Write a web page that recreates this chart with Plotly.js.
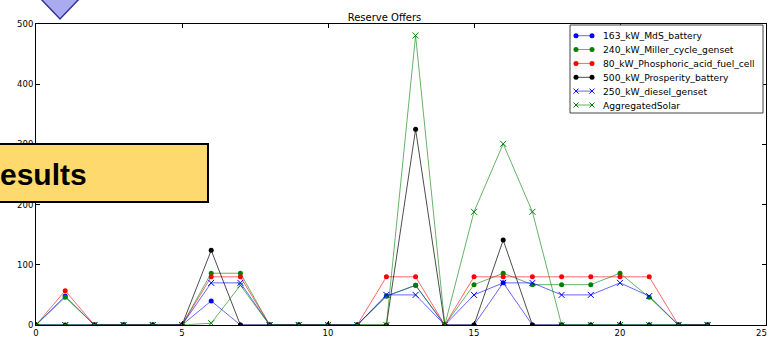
<!DOCTYPE html>
<html>
<head>
<meta charset="utf-8">
<script src="https://cdn.plot.ly/plotly-3.0.1.min.js"></script>
<style>html,body{margin:0;padding:0;background:#fff;}#chart{width:769px;height:340px;}</style>
</head>
<body>
<div id="chart"></div>
<script>
const hours = [0,1,2,3,4,5,6,7,8,9,10,11,12,13,14,15,16,17,18,19,20,21,22,23];
const seriesNames = ["163_kW_MdS_battery","240_kW_Miller_cycle_genset","80_kW_Phosphoric_acid_fuel_cell","500_kW_Prosperity_battery","250_kW_diesel_genset","AggregatedSolar"];
const mdsBattery   = [0,48,0,0,0,0,40,0,0,0,0,0,48,66,0,0,70,0,0,0,0,0,0,0];
const millerGenset = [0,46,0,0,0,0,86,86,0,0,0,0,48,66,0,67,86,67,67,67,86,46,0,0];
const phosFuelCell = [0,57,0,0,0,0,80,80,0,0,0,0,80,80,0,80,80,80,80,80,80,80,0,0];
const prosperityBattery = [0,0,0,0,0,0,124,0,0,0,0,0,0,325,0,0,141,0,0,0,0,0,0,0];
const dieselGenset = [0,0,0,0,0,0,70,70,0,0,0,0,50,50,0,50,70,70,50,50,70,48,0,0];
const aggregatedSolar = [0,0,0,0,0,0,3,66,0,0,0,0,0,481,0,188,301,188,0,0,0,0,0,0];
const xTicks = [0,5,10,15,20,25];
const yTicks = [0,100,200,300,400,500];

const allValues = [mdsBattery, millerGenset, phosFuelCell, prosperityBattery, dieselGenset, aggregatedSolar];
const lineColors = ["rgba(0,0,255,0.6)","rgba(0,128,0,0.6)","rgba(255,0,0,0.6)","rgba(0,0,0,0.7)","rgba(0,0,255,0.6)","rgba(0,128,0,0.6)"];
const markColors = ["#0000ff","#008000","#ff0000","#000000","#0000ff","#008000"];
const symbols = ["circle","circle","circle","circle","x-thin-open","x-thin-open"];

const traces = allValues.map((v,i)=>({
  x: hours, y: v, name: seriesNames[i], type: "scatter", mode: "lines+markers",
  line: {color: lineColors[i], width: 1},
  marker: symbols[i]==="circle"
    ? {symbol: "circle", size: 5, color: markColors[i], line: {width: 0}}
    : {symbol: symbols[i], size: 6, color: markColors[i], line: {width: 1, color: markColors[i]}}
}));

const L = 36, R = 766, T = 24, B = 325;
const px = v => (v - L) / (R - L);
const py = v => (B - v) / (B - T);

// matplotlib-style legend (compact rows), drawn as shapes + text
const legendShapes = [
  {type: "rect", xref: "paper", yref: "paper", layer: "above",
   x0: px(570), x1: px(763), y0: py(25), y1: py(113), fillcolor: "#ffffff", line: {color: "#444", width: 1}}
];
const legendAnn = [];
const rowY = [35.7, 49.5, 63.4, 77.3, 91.1, 105];
seriesNames.forEach((name, i) => {
  const y = rowY[i], xa = 576, xb = 592;
  legendShapes.push({type: "line", xref: "paper", yref: "paper", layer: "above",
    x0: px(xa), x1: px(xb), y0: py(y), y1: py(y), line: {color: lineColors[i], width: 1}});
  [xa, xb].forEach(cx => {
    if (symbols[i] === "circle") {
      legendShapes.push({type: "circle", xref: "paper", yref: "paper", layer: "above",
        x0: px(cx - 2.5), x1: px(cx + 2.5), y0: py(y + 2.5), y1: py(y - 2.5),
        fillcolor: markColors[i], line: {width: 0}});
    } else {
      legendShapes.push({type: "path", xref: "paper", yref: "paper", layer: "above",
        path: `M ${px(cx-2.5)} ${py(y-2.5)} L ${px(cx+2.5)} ${py(y+2.5)} M ${px(cx-2.5)} ${py(y+2.5)} L ${px(cx+2.5)} ${py(y-2.5)}`,
        line: {color: markColors[i], width: 1}});
    }
  });
  legendAnn.push({xref: "paper", yref: "paper", x: px(601), y: py(y), xanchor: "left", yanchor: "middle",
    showarrow: false, text: name, font: {family: "DejaVu Sans", size: 9.2, color: "#000"}});
});

// last x tick label sits at the right edge; drawn right-aligned so it stays inside the page
const lastTick = xTicks[xTicks.length - 1];
const xTickText = xTicks.map(t => t === lastTick ? "" : String(t));

const layout = {
  width: 769, height: 340,
  margin: {l: L, r: 769 - R, t: T, b: 340 - B, pad: 0},
  paper_bgcolor: "#ffffff", plot_bgcolor: "#ffffff",
  font: {family: "DejaVu Sans", size: 9, color: "#000"},
  title: {text: "Reserve Offers", font: {family: "DejaVu Sans", size: 10, color: "#000"}, x: 0.5, xanchor: "center", y: 1 - 17/340, yanchor: "middle"},
  showlegend: false,
  xaxis: {range: [0, 25], tickvals: xTicks, ticktext: xTickText, ticks: "inside", ticklen: 4, tickcolor: "#000",
          showline: true, linecolor: "#000", linewidth: 1, mirror: "ticks", showgrid: false, zeroline: false,
          tickfont: {family: "DejaVu Sans", size: 8.5}},
  yaxis: {range: [0, 500], tickvals: yTicks, ticktext: yTicks.map(String), ticks: "inside", ticklen: 4, tickcolor: "#000",
          showline: true, linecolor: "#000", linewidth: 1, mirror: "ticks", showgrid: false, zeroline: false,
          ticklabeloverflow: "allow", tickfont: {family: "DejaVu Sans", size: 8.5}},
  shapes: [
    {type: "path", xref: "paper", yref: "paper", layer: "above",
     path: `M ${px(40)} ${py(-2)} L ${px(80)} ${py(-2)} L ${px(60)} ${py(19)} Z`,
     fillcolor: "#aaaaee", line: {color: "#33339a", width: 1.5}},
    {type: "rect", xref: "paper", yref: "paper", layer: "above",
     x0: px(-3), x1: px(208), y0: py(144), y1: py(202),
     fillcolor: "#fed96e", line: {color: "#000", width: 2}}
  ].concat(legendShapes),
  annotations: [
    {xref: "paper", yref: "paper", x: px(89), y: py(174), xanchor: "right", yanchor: "middle", showarrow: false,
     text: "<b>esults</b>", font: {family: "Liberation Sans", size: 30, color: "#000"}},
    {xref: "x", yref: "paper", x: lastTick, y: py(333), xanchor: "right", yanchor: "middle", xshift: 2, showarrow: false,
     borderpad: 0, text: String(lastTick), font: {family: "DejaVu Sans", size: 8.5, color: "#000"}}
  ].concat(legendAnn)
};

Plotly.newPlot("chart", traces, layout, {staticPlot: true, displayModeBar: false});
</script>
</body>
</html>
